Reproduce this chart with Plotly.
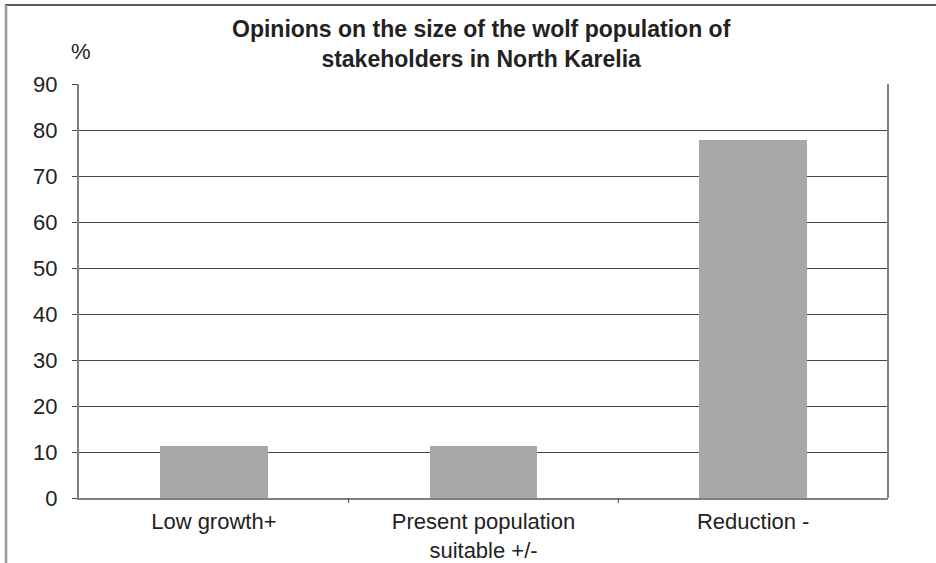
import plotly.graph_objects as go

categories = ["Low growth+", "Present population<br>suitable +/-", "Reduction -"]
values = [11.3, 11.3, 77.8]
y_ticks = [0, 10, 20, 30, 40, 50, 60, 70, 80, 90]
title_text = "Opinions on the size of the wolf population of<br>stakeholders in North Karelia"

L, R, T, B = 79, 48, 84, 65
W, H = 936, 563
pw, ph = W - L - R, H - T - B

def px(x):
    return (x - L) / pw

def py(y):
    return (H - B - y) / ph

FONT = "Liberation Sans, Arial, sans-serif"

fig = go.Figure()
fig.add_trace(go.Bar(
    x=[0, 1, 2], y=values, width=0.4,
    marker=dict(color="#A7A8AA", line=dict(width=0)),
    hoverinfo="skip",
))

fig.update_layout(
    width=W, height=H,
    margin=dict(l=L, r=R, t=T, b=B, autoexpand=False),
    paper_bgcolor="white", plot_bgcolor="white",
    font=dict(family=FONT, size=22, color="#222"),
    showlegend=False,
    xaxis=dict(
        range=[-0.5, 2.5], tickvals=[0, 1, 2], ticktext=categories,
        showgrid=False, showline=True, linecolor="#808080", linewidth=2,
        mirror=False, ticks="", zeroline=False, fixedrange=True,
        ticklabelstandoff=3, automargin=False,
    ),
    yaxis=dict(
        range=[0, 90], tickvals=y_ticks, showgrid=True, gridcolor="#444",
        gridwidth=1, showline=True, linecolor="#808080", linewidth=2,
        ticks="outside", ticklen=5, tickcolor="#444", tickwidth=1,
        zeroline=False, ticklabelstandoff=10, fixedrange=True, automargin=False,
    ),
    bargap=0,
)

shapes = []
shapes.append(dict(type="line", xref="paper", yref="paper", x0=1, x1=1, y0=0, y1=1,
                   line=dict(color="#808080", width=2)))
for xb in [0.5, 1.5]:
    shapes.append(dict(type="line", xref="x", yref="paper", x0=xb, x1=xb, y0=0, y1=py(503),
                       line=dict(color="#444", width=1)))
shapes.append(dict(type="line", xref="paper", yref="paper", x0=px(5), x1=px(936), y0=py(5), y1=py(5),
                   line=dict(color="#222", width=1.5)))
shapes.append(dict(type="line", xref="paper", yref="paper", x0=px(6), x1=px(6), y0=py(5), y1=py(563),
                   line=dict(color="#999", width=2.5)))
fig.update_layout(shapes=shapes)

fig.add_annotation(text="<b>" + title_text + "</b>", xref="paper", yref="paper",
                   x=px(481), y=py(44), xanchor="center", yanchor="middle",
                   showarrow=False, align="center",
                   font=dict(family=FONT, size=23, color="#222"))

fig.add_annotation(text="%", xref="paper", yref="paper", x=px(81), y=py(51),
                   xanchor="center", yanchor="middle", showarrow=False,
                   font=dict(family=FONT, size=22, color="#222"))

fig.write_html("out.html", config={"displayModeBar": False},
               post_script="document.body.style.margin='0';")
